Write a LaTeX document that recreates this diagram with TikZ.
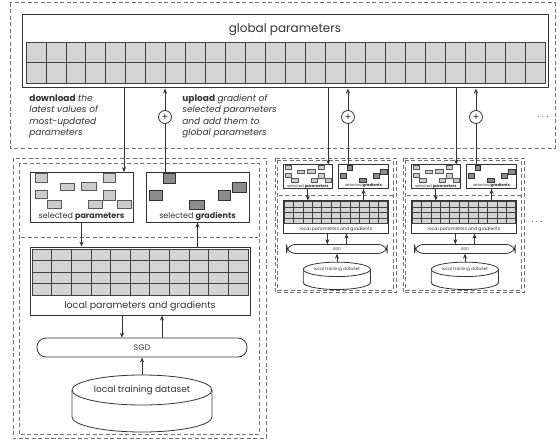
\documentclass[tikz,border=0pt]{standalone}
\usepackage{fontspec}
\setmainfont{Poppins}
\usetikzlibrary{arrows.meta}

\newcommand{\workerbox}{%
  \draw[frame] (0,0) rectangle (253,280);
  \draw[frame] (6,5) rectangle (246,276);
  \draw[frame] (8,79) -- (245,79);
  \node[selbox] (sp) at (68.5,39) {};
  \node[selbox] (sg) at (184.5,39) {};
  \foreach \a/\b/\c/\d in {22/15/34/24, 47/25/61/32, 68/24/83/32, 90/15/102/24, 22/32/34/40,
      34/42/48/50, 75/42/89/50, 90/32/102/42, 104/42/118/50}
    \draw[pcell] (\a,\b) rectangle (\c,\d);
  \foreach \a/\b/\c/\d in {150/15/162/25, 136/32/149/42, 176/42/191/51, 205/32/217/42, 219/24/233/34}
    \draw[gcell] (\a,\b) rectangle (\c,\d);
  \node[lbl, anchor=south] (spl) at (sp.south) {selected \textbf{parameters}};
  \node[lbl, anchor=south] (sgl) at (sg.south) {selected \textbf{gradients}};
  \node[gridbox] (lg) at (127,123) {};
  \foreach \i in {0,...,10}
    \foreach \j in {0,...,3}
      \draw[cell] ({19+\i*19.64},{91+\j*11.5}) rectangle +(19.64,11.5);
  \node[font=\fontsize{9.5}{11}\selectfont] (lgl) at (127,148) {local parameters and gradients};
  \node[sgdbox] (sgd) at (129,189.5) {SGD};
  \draw[fill=white] (59,232) -- (59,259) arc[start angle=180, end angle=0, x radius=70, y radius=15] -- (199,232);
  \draw[fill=white] (129,232) ellipse [x radius=70, y radius=15];
  \node[minimum height=30pt, inner sep=0pt, font=\fontsize{9}{11}\selectfont] (ds) at (129,232) {local training dataset};
  \coordinate (c1) at (109,0);
  \coordinate (c2) at (149,0);
  \coordinate (dl) at (111,14);
  \coordinate (ul) at (152,14);
  \draw[->] (sp.south) -- (sp.south |- lg.north);
  \draw[->] (sg.south |- lg.north) -- (sg.south);
  \draw[->] (lg.south -| c1) -- (sgd.north -| c1);
  \draw[->] (sgd.north -| c2) -- (lg.south -| c2);
  \draw[->] (ds.north) -- (sgd.south);
}

\begin{document}
\begin{tikzpicture}[x=1pt,y=-1pt,>={Stealth[length=5pt,width=4pt]},line width=0.8pt,black!80]
  \tikzstyle{frame}=[draw=black!55, line width=1pt, dash pattern=on 4pt off 2.5pt]
  \tikzstyle{gpbox}=[draw, line width=1pt, minimum width=526pt, minimum height=73pt, inner sep=0pt]
  \tikzstyle{cell}=[fill=black!17, draw=black!75, line width=0.8pt]
  \tikzstyle{selbox}=[draw, line width=1pt, minimum width=103pt, minimum height=50pt, inner sep=0pt]
  \tikzstyle{pcell}=[fill=black!20, draw=black!65, line width=0.6pt]
  \tikzstyle{gcell}=[fill=black!45, draw=black!80, line width=0.6pt]
  \tikzstyle{lbl}=[font=\fontsize{8}{9}\selectfont, inner sep=1.5pt]
  \tikzstyle{gridbox}=[draw, line width=1pt, minimum width=220pt, minimum height=68pt, inner sep=0pt]
  \tikzstyle{sgdbox}=[draw, rounded corners=9pt, minimum width=210pt, minimum height=19pt,
    inner sep=0pt, font=\fontsize{8}{9}\selectfont]
  \tikzstyle{note}=[font=\fontsize{9}{11.5}\selectfont, align=left, inner sep=0pt]
  \tikzstyle{plus}=[draw, circle, minimum size=13pt, inner sep=0pt, font=\fontsize{10}{10}\selectfont, fill=white]

  \useasboundingbox (0,0) rectangle (560,444);
  \draw[frame] (10,3) rectangle (555,148);
  \node[gpbox] (gp) at (285,51.5) {};
  \node[font=\fontsize{12}{13}\selectfont] (gpt) at (285,30) {global parameters};
  \foreach \i in {0,...,25}
    \foreach \j in {0,1}
      \draw[cell] ({26+\i*19.96},{42+\j*20.5}) rectangle +(19.96,20.5);
  \node[note, anchor=north west] (dtxt) at (29,94)
    {\textbf{download} \textit{the}\\\textit{latest values of}\\\textit{most-updated}\\\textit{parameters}};
  \node[note, anchor=north west] (utxt) at (182,94)
    {\textbf{upload} \textit{gradient of}\\\textit{selected parameters}\\\textit{and add them to}\\\textit{global parameters}};

  \begin{scope}[shift={(13,158)}, name prefix=w1-]
    \workerbox
  \end{scope}
  \begin{scope}[shift={(275,158)}, scale=0.48, transform shape, name prefix=w2-]
    \workerbox
  \end{scope}
  \begin{scope}[shift={(403,158)}, scale=0.48, transform shape, name prefix=w3-]
    \workerbox
  \end{scope}

  \foreach \w in {w1,w2,w3} {
    \draw[->] (gp.south -| \w-dl) -- (\w-dl);
    \node[plus] (\w-plus) at (\w-ul |- 0,117) {+};
    \draw (\w-ul) -- (\w-plus);
    \draw[->] (\w-plus) -- (\w-plus |- gp.south);
  }
  \node (more1) at (543,117) {$\cdots$};
  \node (more2) at (537,222) {$\cdots$};
\end{tikzpicture}
\end{document}
